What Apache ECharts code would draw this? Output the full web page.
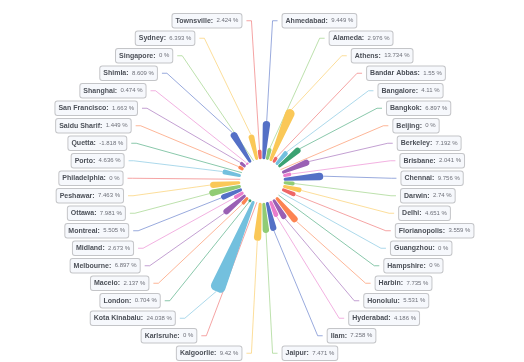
<!DOCTYPE html>
<html>
<head>
<meta charset="utf-8">
<script src="https://cdn.jsdelivr.net/npm/echarts@6/dist/echarts.min.js"></script>
<style>html,body{margin:0;padding:0;background:#fff}#c{width:524px;height:362px}</style>
</head>
<body>
<div id="c"></div>
<script>
const cities = ['Ahmedabad','Alameda','Athens','Bandar Abbas','Bangalore','Bangkok','Beijing','Berkeley','Brisbane','Chennai','Darwin','Delhi','Florianopolis','Guangzhou','Hampshire','Harbin','Honolulu','Hyderabad','Ilam','Jaipur','Kalgoorlie','Karlsruhe','Kota Kinabalu','London','Maceio','Melbourne','Midland','Montreal','Ottawa','Peshawar','Philadelphia','Porto','Quetta','Saidu Sharif','San Francisco','Shanghai','Shimla','Singapore','Sydney','Townsville'];
const values = [9.449,2.976,13.734,1.55,4.11,6.897,0,7.192,2.041,9.756,2.74,4.651,3.559,0,0,7.735,5.531,4.186,7.258,7.471,9.42,0,24.038,0.704,2.137,6.897,2.673,5.505,7.981,7.463,0,4.636,-1.818,1.449,1.663,0.474,8.609,0,6.393,2.424];

const chart = echarts.init(document.getElementById('c'), null, {renderer: 'canvas'});
chart.setOption({
  animation: false,
  color: ['#5470c6','#91cc75','#fac858','#ee6666','#73c0de','#3ba272','#fc8452','#9a60b4','#ea7ccc'],
  series: [{
    type: 'pie',
    roseType: 'area',
    center: ['50%', '50%'],
    radius: ['12%', '66%'],
    padAngle: 1.5,
    itemStyle: { borderRadius: 5 },
    label: {
      // the pie layout of this version drops negative sectors, so the
      // sector uses max(v, 0) while the label shows the real value
      formatter: p => '{b|' + p.name + ':}  ' + values[p.dataIndex] + ' %',
      backgroundColor: '#F6F8FC',
      borderColor: '#c4c5c8',
      borderWidth: 1,
      borderRadius: 2,
      padding: [0, 3],
      color: '#6E7079',
      fontSize: 6,
      minMargin: 2,
      rich: {
        b: { color: '#4C5058', fontSize: 7, fontWeight: 'bold', lineHeight: 13.5 }
      }
    },
    labelLine: { length: 15, length2: 5, lineStyle: { width: 0.6 } },
    data: cities.map((c, i) => ({ name: c, value: Math.max(values[i], 0) }))
  }]
});
</script>
</body>
</html>
